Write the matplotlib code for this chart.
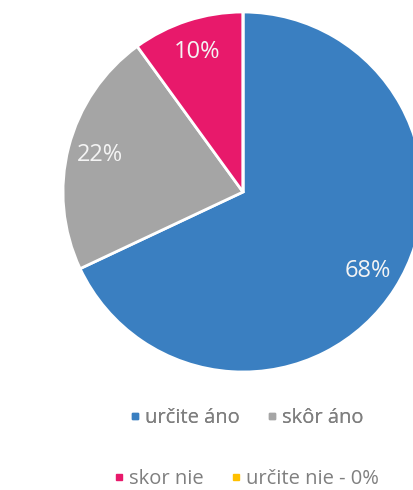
import matplotlib.pyplot as plt
from matplotlib.lines import Line2D

labels = ["určite áno", "skôr áno", "skor nie", "určite nie - 0%"]
values = [68, 22, 10, 0]
colors = ["#3A7FC1", "#A5A5A5", "#E8196B", "#FFC000"]

plt.rcParams["font.family"] = ["Open Sans", "DejaVu Sans"]

fig = plt.figure(figsize=(4.14, 4.90), dpi=100)
# pie axes: centre at (243, 192) px, radius 180 px
ax = fig.add_axes([62 / 414, (298 - 180) / 490, 362 / 414, 360 / 490])


def pct(p):
    return "" if p < 0.5 else f"{p:.0f}%"


wedges, texts, autotexts = ax.pie(
    values,
    colors=colors,
    startangle=90,
    counterclock=False,
    autopct=pct,
    pctdistance=0.82,
    wedgeprops=dict(edgecolor="white", linewidth=2),
    textprops=dict(color="#F4F4F4", fontsize=17),
)
ax.set_xlim(-1, 1)
ax.set_ylim(-1, 1)

handles = [
    Line2D([], [], marker="s", linestyle="none", markersize=5,
           markerfacecolor=c, markeredgecolor=c)
    for c in colors
]

common = dict(loc="center", frameon=False, ncol=2, fontsize=14.5,
              labelcolor="#7F7F7F", handletextpad=0.2, columnspacing=1.3,
              handlelength=0.6)
leg1 = fig.legend(handles[:2], labels[:2],
                  bbox_to_anchor=(246 / 414, 1 - 418 / 490), **common)
fig.add_artist(leg1)
fig.legend(handles[2:], labels[2:],
           bbox_to_anchor=(246 / 414, 1 - 479 / 490), **common)

fig.savefig("out.png", dpi=100)
